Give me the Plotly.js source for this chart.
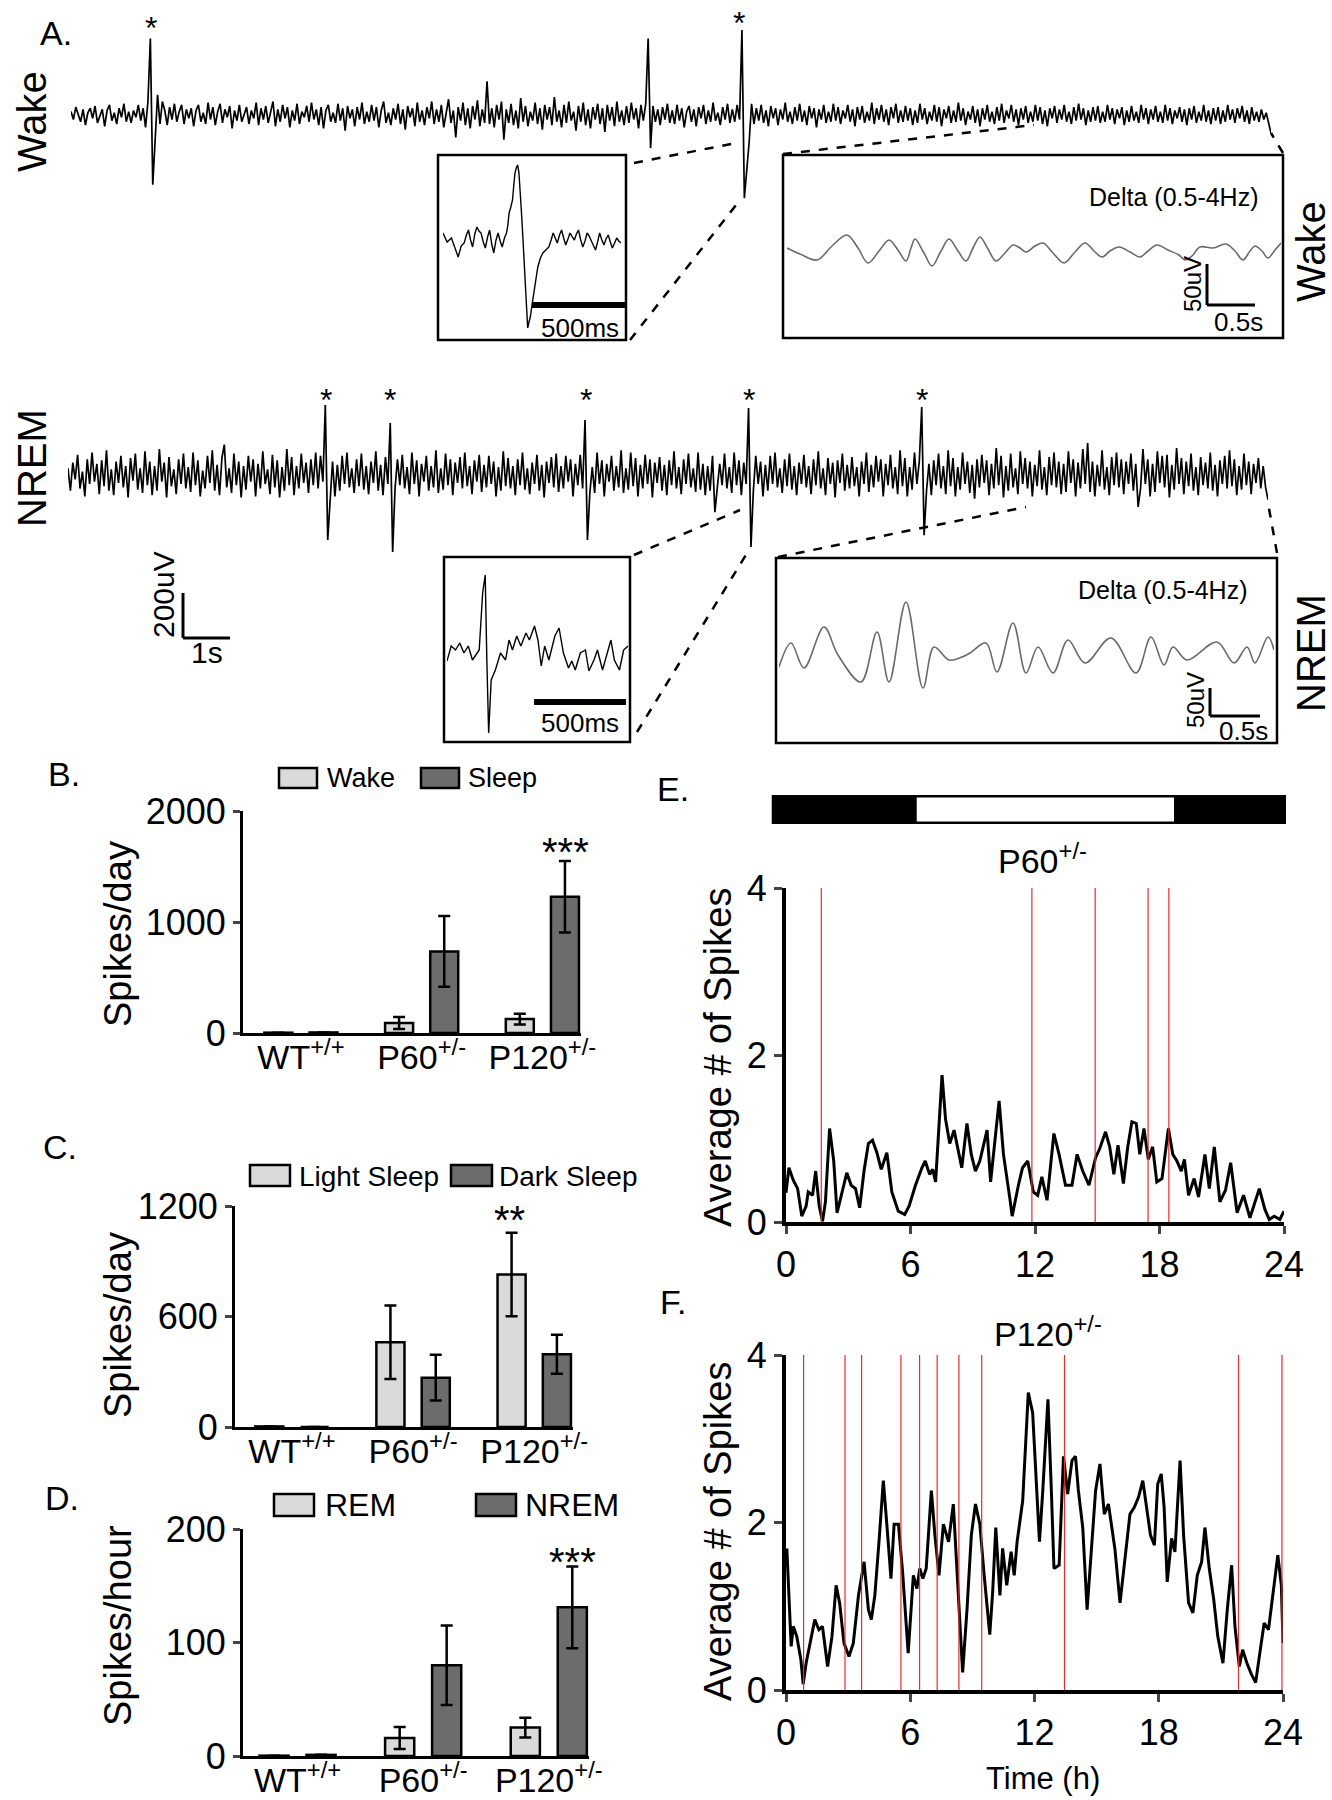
<!DOCTYPE html>
<html><head><meta charset="utf-8">
<script src="https://cdn.plot.ly/plotly-3.0.1.min.js"></script>
<style>body{margin:0;background:#fff}#chart{width:1332px;height:1800px}</style>
</head><body><div id="chart"></div>
<script>
// ================= DATA =================
// Panel A: raw EEG (uV), one value per 0.051 s
const eegDt = 0.051;
const wakeEEG = [
15,-20,35,5,-30,25,-45,10,30,-15,40,-35,-5,25,-50,20,45,-25,10,-40,30,-10,50,-30,15,
-35,20,-10,45,-25,30,-55,60,340,-310,-120,90,-40,60,20,-45,35,-20,50,-30,15,45,-40,25,-15,
30,-50,20,45,-30,10,-40,55,-20,35,-45,15,50,-35,25,-10,40,-60,20,-25,45,-30,5,35,-40,
20,-15,55,-45,30,-20,40,-35,10,60,-50,25,-30,45,-15,35,-55,20,-25,50,-40,15,-10,40,-30,
55,-20,25,-45,35,-60,20,45,-30,10,-35,50,-25,30,-70,40,-15,25,-50,35,-20,55,-40,15,-30,
45,-25,35,-55,20,60,-35,10,-45,30,-20,50,-40,25,-65,40,-10,30,-50,55,-30,20,-45,35,-15,
60,-40,25,-30,45,-55,15,70,-35,20,-100,35,-25,55,-45,30,-60,40,-20,65,-50,25,-35,150,-40,
30,-55,45,-20,60,-110,25,-35,50,-45,20,-60,75,-30,40,-50,15,-25,55,-40,30,-65,45,-20,35,
-45,80,-30,20,-55,45,-35,60,-25,15,-70,40,-30,55,-45,25,-60,35,-20,50,-40,30,-75,45,-25,
35,-50,60,-30,20,-45,40,-35,55,-20,30,-60,45,-25,50,340,-147,40,-30,25,-45,35,-20,50,-35,
20,-40,45,-25,30,-55,15,40,-30,25,-50,35,-15,45,-40,20,-30,55,-25,10,-45,35,-20,50,-35,
25,-30,45,-20,378,-370,-260,-120,50,-40,30,-25,45,-35,20,-50,40,-15,30,-45,25,-20,55,-30,15,
-40,35,-25,50,-30,20,-45,40,-15,30,-55,25,-20,45,-35,15,-30,50,-25,35,-40,20,-15,45,-30,
25,-50,35,-20,40,-35,15,-25,55,-40,30,-20,45,-30,25,-45,35,-15,50,-35,20,-30,40,-25,30,
-45,20,-35,50,-20,30,-40,15,-25,45,-30,35,-50,25,-15,40,-35,20,-30,55,-25,30,-45,15,-20,
40,-35,25,-50,30,-20,45,-30,15,-40,35,-25,50,-35,20,-15,45,-30,25,-45,30,-20,40,-35,15,
-30,45,-25,35,-40,20,-50,30,-15,40,-35,25,-20,45,-30,15,-40,35,-25,50,-20,30,-45,20,-30,
35,-25,40,-35,15,-30,45,-20,30,-40,25,-15,35,-45,20,-30,40,-25,15,-35,45,-20,30,-40,25,
-20,40,-30,15,-35,45,-25,30,-40,20,-15,35,-30,25,-45,30,-20,40,-35,15,-25,45,-30,20,-40,
30,-25,35,-40,20,-30,45,-20,25,-35,30,-15,40,-30,20,-40,35,-25,15,-30,25,-20,10,-40,-80];
const nremEEG = [
30,-70,55,-20,90,-60,15,-95,70,-40,100,-30,50,-85,65,-50,110,-70,25,-90,60,-35,85,-55,40,
-100,75,-25,95,-65,30,-80,105,-45,60,-90,40,-70,115,-30,55,-100,80,-50,25,-85,70,-40,95,-60,
35,-75,100,-45,65,-95,20,-60,85,-35,110,-70,45,-90,75,135,-55,30,-80,95,-45,60,-100,40,-65,
85,-30,70,-95,50,-60,105,-40,25,-85,90,-55,65,-100,35,-70,115,-45,80,-90,40,-60,95,-35,55,
-80,70,-45,100,-60,85,-30,311,-289,-90,60,-95,45,-70,85,-40,100,-55,30,-80,70,-50,95,-65,40,
-85,60,-35,105,-70,45,-90,80,-40,231,-342,-60,70,-45,90,-60,35,-85,100,-40,65,-95,50,-30,85,
-70,40,-55,110,-80,30,-65,95,-45,70,-90,55,-35,80,-60,100,-50,40,-85,65,-30,90,-75,45,-55,
85,-40,60,-95,35,-70,105,-50,75,-60,40,-90,70,-45,100,-65,30,-85,55,-40,90,-70,45,-100,60,
-35,80,-55,95,-75,40,-60,85,-30,70,-95,50,-45,90,-60,244,-289,-80,35,-80,100,-40,65,-95,50,
-30,85,-70,40,-55,110,-80,30,-65,100,-50,75,-95,45,-60,90,-40,70,-100,55,-35,80,-70,45,-90,
65,-45,105,-60,35,-85,70,-40,95,-55,30,-75,100,-65,50,-90,40,-70,85,-165,-60,50,-45,95,-60,
35,-80,100,-45,65,-90,55,-40,298,-320,-70,85,-40,60,-95,45,-70,85,-40,100,-55,30,-80,70,-50,
95,-65,40,-90,55,-40,90,-55,40,-85,70,-45,105,-60,30,-90,75,-40,55,-100,65,-35,95,-70,45,
-60,80,-50,35,-95,60,-40,100,-75,45,-55,85,-30,70,-95,50,-45,90,-60,35,-85,110,-50,75,-95,
35,-65,100,-40,60,302,-267,-70,50,-90,65,-45,95,-60,40,-85,110,-50,75,-95,35,-65,100,-40,60,
-80,45,-105,70,-55,90,-35,65,-90,50,-60,120,-45,85,-100,40,-70,95,-55,30,-85,105,-40,75,-60,
60,-95,45,-50,110,-65,35,-90,80,-45,100,-55,60,-85,50,-75,105,-35,70,-95,55,-60,115,-40,142,
-75,60,-95,45,-50,110,-65,35,-90,80,-45,100,-55,70,-85,60,-40,95,-70,50,-142,-60,115,-40,70,
-95,50,-75,105,-35,85,-55,90,-100,45,-65,120,-40,75,-85,60,-50,95,-70,35,-90,80,-45,55,-60,
100,-70,45,-95,65,-40,85,-60,110,-50,70,-90,40,-65,95,-45,60,-85,50,-35,75,-60,40,-55,-110];
// Zoomed spike insets (time ms, amplitude)
const wakeSpikeT = [0,22,45,63,81,97,113,125,136,147,158,170,181,192,203,215,226,238,249,260,271,283,294,305,316,328,339,346,353,362,371,378,384,391,398,405,411,418,425,432,438,445,452,459,466,475,484,495,506,520,533,549,565,577,588,599,610,622,633,644,655,667,678,690,701,712,723,735,746,758,769,780,791,803,814,825,836,848,859,870,882,893,904,916,927,938,950];
const wakeSpikeV = [7,-2,2,-8,-17,-6,-3,5,10,0,-7,6,13,9,7,-2,-8,3,10,-4,-13,0,7,-1,-7,2,7,15,27,33,40,55,67,72,75,68,53,30,7,-20,-43,-65,-88,-82,-77,-65,-53,-40,-27,-18,-13,-10,-7,0,7,2,-3,5,10,2,-5,1,7,3,0,6,10,0,-7,-1,7,4,0,-6,-10,-2,7,0,-5,1,5,-2,-8,-3,2,-1,-3];
const nremSpikeT = [0,23,47,70,93,117,140,163,177,196,210,219,229,243,266,294,322,341,360,383,406,434,453,481,500,518,537,560,593,616,640,668,686,705,733,761,780,808,827,855,883,901,920,948,971,995];
const nremSpikeV = [-8,7,3,10,0,7,-7,0,3,60,78,-7,-80,-27,-17,0,-7,13,3,17,7,20,13,27,13,-13,7,-7,17,25,0,-15,-8,-17,0,3,-18,-7,3,-17,0,13,-7,-17,3,7];
// Delta-filtered insets (time ms, amplitude)
const wakeDeltaT = [0,130,300,450,600,710,810,920,1020,1110,1190,1240,1280,1370,1450,1540,1620,1710,1790,1860,1930,2010,2090,2180,2260,2330,2390,2480,2560,2660,2770,2880,2980,3070,3150,3230,3320,3430,3530,3610,3700,3810,3920,3980,4050,4130,4260,4390,4480,4560,4630,4680,4750,4810,4880,4940];
const wakeDeltaV = [0,-6,-12,2,13,0,-15,-3,8,-2,-13,0,9,-5,-18,-3,9,-3,-13,0,11,-1,-13,-5,3,0,-4,2,5,-5,-15,-4,5,-3,-9,-3,1,-4,-9,-3,3,-2,-7,-12,-8,1,0,4,-3,-12,-3,2,-3,-10,-2,5];
const nremDeltaT = [0,120,250,450,590,820,980,1100,1270,1440,1550,1700,1830,1910,2070,2180,2340,2470,2590,2740,2890,3060,3320,3570,3720,3850,3940,4080,4380,4550,4680,4760,4890,4950];
const nremDeltaV = [-12,12,-13,28,0,-27,23,-27,53,-33,8,-5,-2,2,12,-17,32,-18,8,-18,15,-8,17,-18,18,-10,8,-5,13,-8,8,-8,18,5];

// Panels B-D
const groups = ['WT+/+','P60+/-','P120+/-'];
const groupLabels = ['WT<sup>+/+</sup>','P60<sup>+/-</sup>','P120<sup>+/-</sup>'];
const bWake = [3,90,125],  bWakeErr = [0,55,48];
const bSleep = [5,735,1228], bSleepErr = [0,318,322];
const cLight = [3,460,828], cLightErr = [0,200,227];
const cDark = [0,268,395],  cDarkErr = [0,124,106];
const dREM = [0.3,15.8,25], dREMErr = [0,9.7,8.7];
const dNREM = [1,80,131],   dNREMErr = [0,35,36];
const bTicks = [0,1000,2000], cTicks = [0,600,1200], dTicks = [0,100,200];

// Panels E-F
const eHours = [0,0.14,0.35,0.56,0.76,0.97,1.07,1.28,1.43,1.6,1.76,1.9,2.1,2.3,2.46,2.73,2.93,3.14,3.35,3.55,3.76,3.97,4.17,4.38,4.59,4.86,5.1,5.41,5.72,5.93,6.24,6.55,6.71,6.92,7.07,7.21,7.38,7.52,7.69,7.89,8.1,8.3,8.47,8.72,8.93,9.13,9.34,9.69,9.86,10.27,10.48,10.79,10.9,11.2,11.4,11.65,11.92,12.13,12.33,12.58,12.91,13.16,13.47,13.78,14.03,14.3,14.6,14.92,15.12,15.4,15.6,15.8,16.0,16.26,16.47,16.67,16.88,17.05,17.25,17.46,17.67,17.87,18.12,18.43,18.64,18.84,19.05,19.2,19.4,19.67,19.88,20.19,20.4,20.64,20.91,21.18,21.43,21.74,22.05,22.36,22.81,23.08,23.29,23.53,23.8,24];
const eSpikes = [0.35,0.65,0.5,0.4,0.07,0.19,0.36,0.32,0.61,0.19,0.01,0.24,1.12,0.73,0.11,0.4,0.59,0.44,0.4,0.17,0.61,0.94,0.98,0.83,0.63,0.83,0.36,0.13,0.09,0.19,0.44,0.65,0.73,0.57,0.63,0.48,1.23,1.76,1.23,0.94,1.1,0.85,0.65,1.18,0.81,0.61,0.73,1.1,0.48,1.45,0.81,0.28,0.07,0.44,0.65,0.73,0.36,0.32,0.54,0.26,1.06,0.81,0.44,0.44,0.81,0.61,0.44,0.77,0.88,1.08,0.9,0.57,0.92,0.46,0.9,1.2,1.18,0.81,1.12,0.75,0.9,0.48,0.52,1.12,0.81,0.73,0.61,0.75,0.32,0.52,0.3,0.81,0.4,0.9,0.24,0.38,0.71,0.11,0.32,0.05,0.4,0.15,0.03,0.07,0.03,0.13];
const fHours = [0.04,0.14,0.25,0.35,0.52,0.72,0.83,0.97,1.18,1.39,1.59,1.76,2.01,2.22,2.42,2.59,2.8,3.04,3.25,3.5,3.77,3.98,4.12,4.29,4.49,4.7,4.91,5.07,5.22,5.43,5.63,5.9,6.15,6.32,6.46,6.61,6.77,7.02,7.19,7.39,7.6,7.85,8.08,8.26,8.53,8.74,8.95,9.15,9.36,9.57,9.84,9.98,10.13,10.33,10.46,10.66,10.87,11.02,11.16,11.43,11.7,11.91,12.07,12.24,12.4,12.65,12.82,12.94,13.19,13.4,13.6,13.81,13.98,14.12,14.33,14.54,14.74,14.95,15.16,15.37,15.57,15.88,16.13,16.34,16.61,16.82,17.02,17.23,17.44,17.6,17.79,17.95,18.12,18.26,18.41,18.62,18.78,19.03,19.2,19.44,19.65,19.86,20.07,20.23,20.44,20.65,20.85,21.1,21.31,21.52,21.68,21.89,22.05,22.26,22.47,22.68,22.88,23.09,23.3,23.5,23.75,23.92,24];
const fSpikes = [1.69,1.04,0.52,0.76,0.64,0.36,0.07,0.32,0.6,0.84,0.72,0.76,0.28,0.64,1.25,1.04,0.56,0.4,0.56,1.13,1.53,0.96,0.84,1.13,1.77,2.5,1.85,1.33,1.98,1.98,1.41,0.44,1.37,1.21,1.45,1.33,1.45,2.38,1.85,1.37,1.98,1.77,2.22,1.37,0.21,0.96,1.85,2.22,1.98,1.37,0.66,1.17,1.94,1.13,1.69,1.25,1.65,1.37,1.77,2.26,3.55,3.31,2.58,1.77,2.38,3.47,2.34,1.45,1.49,2.79,2.34,2.74,2.79,2.38,1.94,0.96,1.65,2.38,2.7,2.1,2.22,1.69,1.04,1.53,2.1,2.18,2.3,2.5,2.1,1.85,1.73,2.46,2.58,2.18,1.29,1.81,1.65,2.74,1.85,1.04,0.92,1.37,1.53,1.94,1.45,1.09,0.64,0.32,0.96,1.49,0.76,0.28,0.48,0.32,0.19,0.09,0.44,0.8,0.72,1.13,1.61,1.25,0.56];
const eRed = [1.7,11.85,14.9,17.45,18.45];
const fRed = [0.85,2.85,3.65,5.55,6.45,7.3,8.35,9.45,13.45,21.85,23.95];
const hourTicks = [0,6,12,18,24], countTicks = [0,2,4];
const lightPeriod = [6.3,18.7], recordSpan = [-0.7,24.1];

// ================= LAYOUT HELPERS =================
const W = 1332, H = 1800;
const FONT = 'Liberation Sans, Arial, Helvetica, sans-serif';
const LIGHT = '#dadada', DARK = '#6c6c6c';
const px = x => x / W, py = y => 1 - y / H;
const dx = (a, b) => [a / W, b / W];
const dy = (t, b) => [1 - b / H, 1 - t / H];

const traces = [];
const shapes = [];
const annotations = [];
function ann(text, x, y, size, opts) {
  annotations.push(Object.assign({text, x: px(x), y: py(y), xref: 'paper', yref: 'paper', showarrow: false,
    xanchor: 'center', yanchor: 'middle', font: {size, color: '#000', family: FONT}}, opts || {}));
}
function pline(x0, y0, x1, y1, w, dash) {
  shapes.push({type: 'line', xref: 'paper', yref: 'paper', x0: px(x0), y0: py(y0), x1: px(x1), y1: py(y1),
    line: {color: '#000', width: w, dash: dash || 'solid'}});
}
function prect(x0, y0, x1, y1, w, fill) {
  shapes.push({type: 'rect', xref: 'paper', yref: 'paper', x0: px(x0), y0: py(y0), x1: px(x1), y1: py(y1),
    line: {color: '#000', width: w}, fillcolor: fill || 'rgba(0,0,0,0)'});
}
function hid(domain, range, anchor) {
  return {domain, range, anchor, visible: false, showgrid: false, zeroline: false, fixedrange: true};
}

const layout = {
  width: W, height: H, margin: {l: 0, r: 0, t: 0, b: 0},
  paper_bgcolor: '#fff', plot_bgcolor: 'rgba(0,0,0,0)',
  font: {family: FONT, color: '#000'},
  showlegend: false, barmode: 'overlay'
};

// ================= PANEL A =================
const tWake = wakeEEG.map((v, i) => i * eegDt);
const tNrem = nremEEG.map((v, i) => i * eegDt);
traces.push({x: tWake, y: wakeEEG, xaxis: 'x', yaxis: 'y', mode: 'lines', line: {color: '#000', width: 1.7}});
layout.xaxis = hid(dx(71, 1271), [0, (wakeEEG.length - 1) * eegDt], 'y');
layout.yaxis = hid(dy(20, 210), [-422, 422], 'x');

traces.push({x: wakeSpikeT, y: wakeSpikeV, xaxis: 'x2', yaxis: 'y2', mode: 'lines', line: {color: '#000', width: 1.4}});
layout.xaxis2 = hid(dx(443, 621), [0, 950], 'y2');
layout.yaxis2 = hid(dy(155, 340), [-100, 85], 'x2');

traces.push({x: wakeDeltaT, y: wakeDeltaV, xaxis: 'x3', yaxis: 'y3', mode: 'lines', line: {color: '#6a6a6a', width: 1.6, shape: 'spline', smoothing: 1}});
layout.xaxis3 = hid(dx(787, 1281), [0, 4940], 'y3');
layout.yaxis3 = hid(dy(155, 338), [-90, 93], 'x3');

traces.push({x: tNrem, y: nremEEG, xaxis: 'x4', yaxis: 'y4', mode: 'lines', line: {color: '#000', width: 1.7}});
layout.xaxis4 = hid(dx(68, 1268), [0, (nremEEG.length - 1) * eegDt], 'y4');
layout.yaxis4 = hid(dy(380, 570), [-422, 422], 'x4');

traces.push({x: nremSpikeT, y: nremSpikeV, xaxis: 'x5', yaxis: 'y5', mode: 'lines', line: {color: '#000', width: 1.4}});
layout.xaxis5 = hid(dx(447, 628), [0, 995], 'y5');
layout.yaxis5 = hid(dy(557, 742), [-89, 96], 'x5');

traces.push({x: nremDeltaT, y: nremDeltaV, xaxis: 'x6', yaxis: 'y6', mode: 'lines', line: {color: '#6a6a6a', width: 1.6, shape: 'spline', smoothing: 1}});
layout.xaxis6 = hid(dx(779, 1274), [0, 4950], 'y6');
layout.yaxis6 = hid(dy(558, 743), [-88, 97], 'x6');

// boxes, dashed connectors, scale bars
prect(438, 155, 626, 340, 2.5);
prect(783, 155, 1283, 338, 2.5);
prect(444, 557, 630, 742, 2.5);
prect(776, 558, 1277, 743, 2.5);
pline(634, 163, 736, 143, 2.5, 'dash');
pline(630, 340, 740, 200, 2.5, 'dash');
pline(783, 154, 1034, 125, 2.5, 'dash');
pline(1283, 153, 1271, 133, 2.5, 'dash');
pline(634, 555, 740, 510, 2.5, 'dash');
pline(637, 732, 749, 550, 2.5, 'dash');
pline(778, 557, 1026, 507, 2.5, 'dash');
pline(1277, 553, 1268, 503, 2.5, 'dash');
pline(532, 305, 626, 305, 6);
pline(534, 702, 626, 702, 6);
pline(1207, 264, 1207, 305, 3); pline(1207, 305, 1255, 305, 3);
pline(1210, 688, 1210, 716, 3); pline(1210, 716, 1260, 716, 3);
pline(183, 593, 183, 638, 3); pline(183, 638, 230, 638, 3);

ann('A.', 56, 33, 34);
ann('Wake', 32, 122, 40, {textangle: -90});
ann('NREM', 32, 468, 40, {textangle: -90});
ann('Wake', 1311, 252, 40, {textangle: -90});
ann('NREM', 1311, 653, 40, {textangle: -90});
[[151, 20], [739, 15], [326, 392], [390, 392], [586, 392], [749, 392], [922, 392]].forEach(p => ann('*', p[0], p[1] + 8, 32));
ann('Delta (0.5-4Hz)', 1174, 197, 25);
ann('Delta (0.5-4Hz)', 1163, 590, 25);
ann('500ms', 580, 328, 26);
ann('500ms', 580, 723, 26);
ann('50uV', 1192, 284, 24, {textangle: -90});
ann('50uV', 1196, 700, 24, {textangle: -90});
ann('0.5s', 1238, 322, 26);
ann('0.5s', 1243, 731, 26);
ann('200uV', 164, 595, 30, {textangle: -90});
ann('1s', 207, 652, 30);

// ================= PANELS B-D =================
function barPanel(n, xDom, yTop, yBot, xr, yr, ticks, a, aErr, b, bErr) {
  const xa = 'x' + n, ya = 'y' + n;
  traces.push({type: 'bar', x: groups, y: a, xaxis: xa, yaxis: ya, offset: -0.303, width: 0.232,
    marker: {color: LIGHT, line: {color: '#000', width: 2.5}},
    error_y: {type: 'data', array: aErr, visible: true, color: '#000', thickness: 2.5, width: 6}});
  traces.push({type: 'bar', x: groups, y: b, xaxis: xa, yaxis: ya, offset: 0.071, width: 0.232,
    marker: {color: DARK, line: {color: '#000', width: 2.5}},
    error_y: {type: 'data', array: bErr, visible: true, color: '#000', thickness: 2.5, width: 6}});
  layout['xaxis' + n] = {domain: xDom, range: xr, anchor: ya, type: 'category', categoryarray: groups,
    tickvals: groups, ticktext: groupLabels, showline: true, linewidth: 3, linecolor: '#000', ticks: '',
    ticklabelstandoff: -8,
    showgrid: false, zeroline: false, tickfont: {size: 34, family: FONT}, fixedrange: true};
  layout['yaxis' + n] = {domain: dy(yTop, yBot), range: yr, anchor: xa, tickvals: ticks,
    showline: true, linewidth: 3, linecolor: '#000', ticks: 'outside', ticklen: 7, tickwidth: 3,
    showgrid: false, zeroline: false, tickfont: {size: 36, family: FONT}, fixedrange: true};
}
barPanel(7, dx(243, 581), 811, 1033, [-0.48, 2.32], [0, 2000], bTicks, bWake, bWakeErr, bSleep, bSleepErr);
barPanel(8, dx(235, 573), 1206, 1427, [-0.47, 2.32], [0, 1200], cTicks, cLight, cLightErr, cDark, cDarkErr);
barPanel(9, dx(243, 589), 1529, 1756, [-0.434, 2.32], [0, 200], dTicks, dREM, dREMErr, dNREM, dNREMErr);

ann('B.', 64, 774, 34);
ann('Spikes/day', 118, 934, 38, {textangle: -90});
prect(279, 768, 317, 788, 2.5, LIGHT); ann('Wake', 325, 778, 27, {xanchor: 'left'});
prect(421, 768, 459, 788, 2.5, DARK);  ann('Sleep', 466, 778, 27, {xanchor: 'left'});
ann('***', 565, 852, 40);

ann('C.', 60, 1147, 34);
ann('Spikes/day', 118, 1325, 38, {textangle: -90});
prect(250, 1165, 290, 1186, 2.5, LIGHT); ann('Light Sleep', 297, 1176, 28, {xanchor: 'left'});
prect(451, 1165, 492, 1186, 2.5, DARK);  ann('Dark Sleep', 497, 1176, 28, {xanchor: 'left'});
ann('**', 510, 1220, 40);

ann('D.', 62, 1498, 34);
ann('Spikes/hour', 118, 1626, 38, {textangle: -90});
prect(274, 1494, 314, 1516, 2.5, LIGHT); ann('REM', 323, 1505, 32, {xanchor: 'left'});
prect(476, 1494, 516, 1516, 2.5, DARK);  ann('NREM', 523, 1505, 32, {xanchor: 'left'});
ann('***', 572, 1562, 40);

// ================= PANELS E-F =================
function timePanel(n, xDom, yTop, yBot, hrs, vals, red) {
  const xa = 'x' + n, ya = 'y' + n;
  traces.push({x: hrs, y: vals, xaxis: xa, yaxis: ya, mode: 'lines', line: {color: '#000', width: 3}});
  layout['xaxis' + n] = {domain: xDom, range: [hourTicks[0], hourTicks[hourTicks.length - 1]], anchor: ya,
    tickvals: hourTicks, showline: true, linewidth: 4, linecolor: '#000', ticks: 'outside', ticklen: 8, tickwidth: 3,
    showgrid: false, zeroline: false, tickfont: {size: 36, family: FONT}, fixedrange: true};
  layout['yaxis' + n] = {domain: dy(yTop, yBot), range: [countTicks[0], countTicks[countTicks.length - 1]], anchor: xa,
    tickvals: countTicks, showline: true, linewidth: 4, linecolor: '#000', ticks: 'outside', ticklen: 8, tickwidth: 3,
    showgrid: false, zeroline: false, tickfont: {size: 36, family: FONT}, fixedrange: true};
  red.forEach(h => shapes.push({type: 'line', xref: xa, yref: ya, x0: h, x1: h,
    y0: countTicks[0], y1: countTicks[countTicks.length - 1], line: {color: '#f02828', width: 1.2}}));
}
timePanel(10, dx(786, 1284), 888, 1222, eHours, eSpikes, eRed);
timePanel(11, dx(786, 1283), 1355, 1690, fHours, fSpikes, fRed);

// light/dark bar above E (horizontal bars on an hour axis aligned with E)
const hourPx = (1284 - 786) / 24;
layout.xaxis12 = hid(dx(786 + recordSpan[0] * hourPx, 786 + recordSpan[1] * hourPx), recordSpan, 'y12');
layout.yaxis12 = hid(dy(795, 824), [-0.5, 0.5], 'x12');
traces.push({type: 'bar', orientation: 'h', y: [0], x: [recordSpan[1] - recordSpan[0]], base: [recordSpan[0]],
  width: 1, xaxis: 'x12', yaxis: 'y12', marker: {color: '#000', line: {width: 0}}});
traces.push({type: 'bar', orientation: 'h', y: [0], x: [lightPeriod[1] - lightPeriod[0]], base: [lightPeriod[0]],
  width: 0.82, xaxis: 'x12', yaxis: 'y12', marker: {color: '#fff', line: {width: 0}}});

ann('E.', 673, 789, 34);
ann('P60<sup>+/-</sup>', 1042, 858, 34);
ann('Average # of Spikes', 718, 1058, 38, {textangle: -90});
ann('F.', 673, 1302, 34);
ann('P120<sup>+/-</sup>', 1048, 1331, 34);
ann('Average # of Spikes', 718, 1532, 38, {textangle: -90});
ann('Time (h)', 1043, 1778, 31);

layout.shapes = shapes;
layout.annotations = annotations;
Plotly.newPlot('chart', traces, layout, {displayModeBar: false, staticPlot: true});
</script>
</body></html>
